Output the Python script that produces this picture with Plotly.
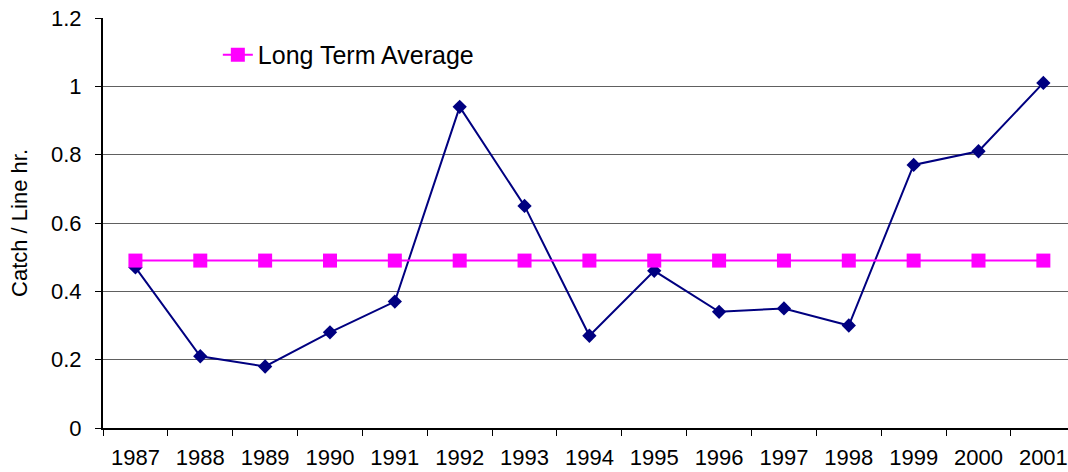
import plotly.graph_objects as go

years = ["1987", "1988", "1989", "1990", "1991", "1992", "1993", "1994",
         "1995", "1996", "1997", "1998", "1999", "2000", "2001"]
catch_per_hr = [0.47, 0.21, 0.18, 0.28, 0.37, 0.94, 0.65, 0.27,
                0.46, 0.34, 0.35, 0.30, 0.77, 0.81, 1.01]
long_term_avg = [0.49] * len(years)
y_ticks = [0, 0.2, 0.4, 0.6, 0.8, 1, 1.2]
y_tick_text = ["0", "0.2", "0.4", "0.6", "0.8", "1", "1.2"]

FONT = "Liberation Sans, Arial, sans-serif"

fig = go.Figure()
fig.add_trace(go.Scatter(
    x=years, y=catch_per_hr, mode="lines+markers", name="Catch / Line hr.",
    line=dict(color="#000080", width=2),
    marker=dict(symbol="diamond", size=11, color="#000080"),
    showlegend=False, cliponaxis=False,
))
fig.add_trace(go.Scatter(
    x=years, y=long_term_avg, mode="lines+markers", name="Long Term Average",
    line=dict(color="#FF00FF", width=2),
    marker=dict(symbol="square", size=14, color="#FF00FF"),
    cliponaxis=False,
))

fig.update_layout(
    width=1068, height=472,
    margin=dict(l=103, r=0, t=18, b=44),
    paper_bgcolor="white", plot_bgcolor="white",
    font=dict(family=FONT, color="black", size=22),
    showlegend=True,
    legend=dict(x=0.119, y=0.91, xanchor="left", yanchor="middle",
                font=dict(size=25, family=FONT), bgcolor="rgba(0,0,0,0)",
                borderwidth=0),
    xaxis=dict(
        type="category", categoryorder="array", categoryarray=years,
        range=[-0.5, 14.38], tickson="boundaries",
        ticks="outside", ticklen=6, tickcolor="black", tickwidth=1,
        showline=True, linecolor="black", linewidth=2,
        showgrid=False, ticklabelstandoff=9,
        tickfont=dict(size=22),
    ),
    yaxis=dict(
        range=[0, 1.2], tickvals=y_ticks, ticktext=y_tick_text,
        ticks="outside", ticklen=6, tickcolor="black", tickwidth=1,
        showline=True, linecolor="black", linewidth=2,
        showgrid=True, gridcolor="#606060", gridwidth=1,
        zeroline=False, ticklabelstandoff=9,
        tickfont=dict(size=22),
        title=dict(text="Catch / Line hr.", font=dict(size=22), standoff=17),
    ),
)

fig.write_html(
    "out.html",
    config={"displayModeBar": False},
    post_script="document.body.style.margin='0';document.body.style.padding='0';",
)
